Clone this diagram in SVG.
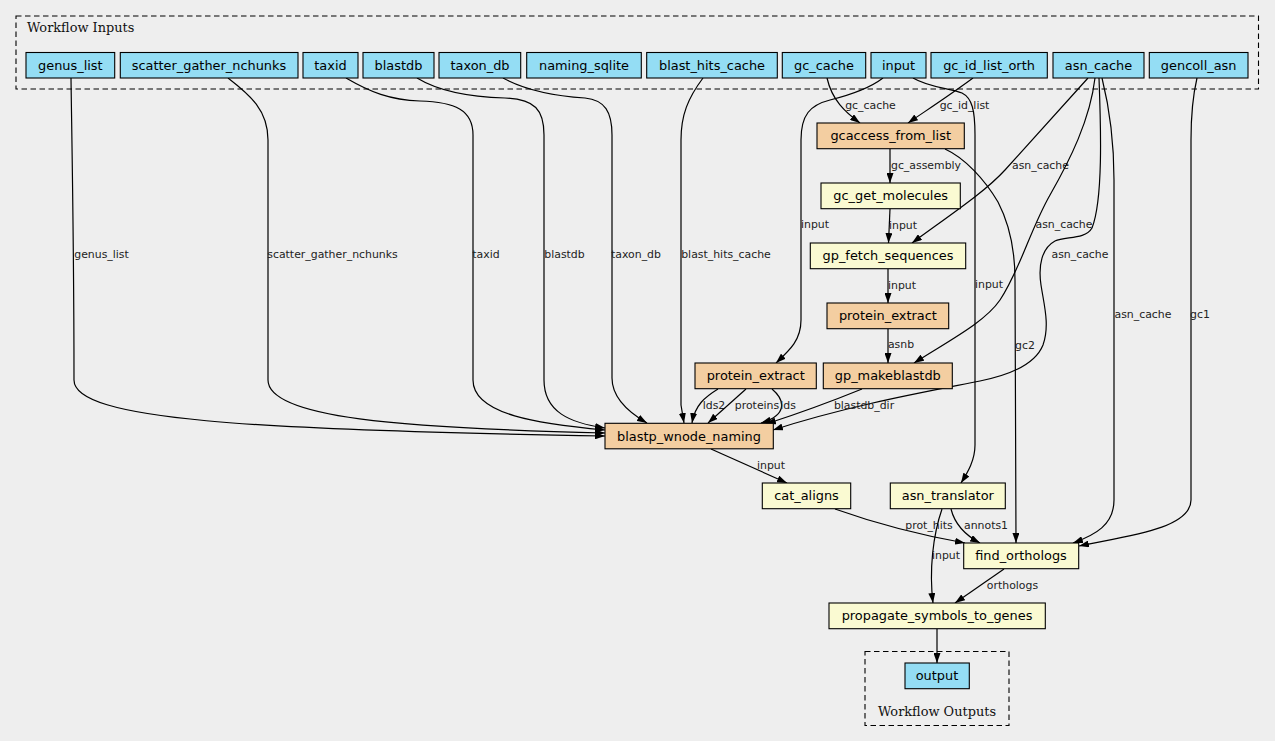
<svg xmlns="http://www.w3.org/2000/svg" width="1275" height="741" viewBox="0 0 1275 741">
<style>
.bg{fill:#eeeeee}
.cl{fill:none;stroke:#000;stroke-width:1.1;stroke-dasharray:5.5,3.5}
.ct{font-family:"DejaVu Serif",serif;font-size:12.9px;fill:#111}
.n rect{stroke:#000;stroke-width:1.1}
.in rect{fill:#94ddf4}
.sub rect{fill:#f3cea1}
.st rect{fill:#fafad2}
.n text{font-family:"DejaVu Sans",sans-serif;font-size:12.9px;text-anchor:middle;fill:#000}
.e path{fill:none;stroke:#000;stroke-width:1.2;marker-end:url(#a)}
.e text{font-family:"DejaVu Sans",sans-serif;font-size:10.9px;text-anchor:middle;fill:#222}
</style>
<defs>
<marker id="a" viewBox="0 0 10 7" markerWidth="10" markerHeight="7" refX="10" refY="3.5" orient="auto" markerUnits="userSpaceOnUse">
<path d="M0,0 L10,3.5 L0,7 z" fill="#000"/>
</marker>
</defs>
<rect class="bg" x="0" y="0" width="1275" height="741"/>
<g id="cluster_inputs">
<rect class="cl" x="16" y="16" width="1242.5" height="73"/>
<text class="ct" x="27" y="31.5">Workflow Inputs</text>
</g>
<g id="cluster_outputs">
<rect class="cl" x="865" y="651.5" width="144" height="74"/>
<text class="ct" x="937" y="716" text-anchor="middle">Workflow Outputs</text>
</g>
<g id="connectors" class="e">
<path d="M71,78 C72,150 74,250 74,380 C74,420 250,430 605,436"/>
<text x="101.5" y="258">genus_list</text>
<path d="M228,78 C250,95 268,110 268,140 L268,380 C268,418 400,428 605,433"/>
<text x="332.5" y="258">scatter_gather_nchunks</text>
<path d="M346,78 C370,92 390,100 420,101 C455,102 473,110 473,135 L473,380 C473,415 540,424 605,430"/>
<text x="486" y="258">taxid</text>
<path d="M417,78 C440,92 470,97 505,98 C535,99 544,110 544,135 L544,380 C544,412 570,423 605,428"/>
<text x="564.5" y="258">blastdb</text>
<path d="M503,78 C525,90 555,96 585,98 C605,100 612,112 612,135 L612,378 C612,398 628,412 647,423"/>
<text x="636" y="258">taxon_db</text>
<path d="M703,78 C688,98 681,115 681,140 L681,405 L684,423"/>
<text x="726" y="258">blast_hits_cache</text>
<path d="M827,78 C832,100 845,112 860,123"/>
<text x="870.5" y="109">gc_cache</text>
<path d="M973,78 C950,95 930,108 908,123"/>
<text x="964.5" y="109">gc_id_list</text>
<path d="M883,78 C870,88 850,95 830,100 C810,105 801,115 801,140 L801,320 C801,340 790,350 776,363"/>
<text x="815" y="228">input</text>
<path d="M913,78 C930,88 950,88 962,93 C972,98 975,110 975,135 L975,445 C975,460 968,472 961,483"/>
<text x="989" y="288">input</text>
<path d="M890,149 L890,183"/>
<text x="926" y="169">gc_assembly</text>
<path d="M890,209 L888.5,243"/>
<text x="903" y="229">input</text>
<path d="M888,269 L888,303"/>
<text x="902" y="289">input</text>
<path d="M888,329 L888,363"/>
<text x="901" y="348">asnb</text>
<path d="M1088,78 L1005,170 C985,192 950,215 912,243"/>
<text x="1040.5" y="169">asn_cache</text>
<path d="M1095,78 C1090,120 1070,160 1050,195 C1030,230 1020,270 1000,300 C985,322 950,340 914,363"/>
<text x="1064" y="228">asn_cache</text>
<path d="M1099,78 C1101,130 1103,200 1092,228 C1085,240 1065,236 1055,241 C1042,248 1038,265 1041,285 C1044,305 1050,325 1043,345 C1035,365 1010,375 980,381 C930,391 850,405 773,430"/>
<text x="1080" y="258">asn_cache</text>
<path d="M1102,78 C1110,110 1114,140 1114,180 L1114,500 C1114,525 1095,535 1073,543"/>
<text x="1143" y="318">asn_cache</text>
<path d="M1197,78 C1193,95 1191,110 1191,140 L1191,500 C1191,530 1120,537 1079,546"/>
<text x="1200" y="318">gc1</text>
<path d="M945,149 C965,158 985,180 998,202 C1010,225 1015,250 1015,280 L1016,543"/>
<text x="1025" y="349">gc2</text>
<path d="M718,389 C705,397 695,405 692,423"/>
<text x="714" y="409">lds2</text>
<path d="M746,389 L708,423"/>
<text x="757" y="409">proteins</text>
<path d="M772,389 C785,400 788,415 761,423"/>
<text x="788" y="409">lds</text>
<path d="M862,389 C830,402 800,413 766,424"/>
<text x="864" y="409">blastdb_dir</text>
<path d="M711,449 L787,483"/>
<text x="771" y="469">input</text>
<path d="M835,509 C880,525 920,535 965,543"/>
<text x="929" y="529">prot_hits</text>
<path d="M951,509 C955,525 965,535 980,543"/>
<text x="986" y="529">annots1</text>
<path d="M942,509 C933,535 929,570 933,603"/>
<text x="946" y="559">input</text>
<path d="M1004,569 L955,603"/>
<text x="1012.5" y="589">orthologs</text>
<path d="M937,629 L937,663"/>
</g>
<g id="genus_list" class="n in"><rect x="26" y="52.5" width="88.7" height="25.5"/><text x="70.3" y="69.7">genus_list</text></g>
<g id="scatter_gather_nchunks" class="n in"><rect x="120.3" y="52.5" width="177.7" height="25.5"/><text x="209" y="69.7">scatter_gather_nchunks</text></g>
<g id="taxid" class="n in"><rect x="303" y="52.5" width="55" height="25.5"/><text x="330.5" y="69.7">taxid</text></g>
<g id="blastdb" class="n in"><rect x="363" y="52.5" width="71" height="25.5"/><text x="398.5" y="69.7">blastdb</text></g>
<g id="taxon_db" class="n in"><rect x="439" y="52.5" width="81.7" height="25.5"/><text x="480" y="69.7">taxon_db</text></g>
<g id="naming_sqlite" class="n in"><rect x="526.7" y="52.5" width="114.6" height="25.5"/><text x="584" y="69.7">naming_sqlite</text></g>
<g id="blast_hits_cache" class="n in"><rect x="646.7" y="52.5" width="130.6" height="25.5"/><text x="712" y="69.7">blast_hits_cache</text></g>
<g id="gc_cache" class="n in"><rect x="782.3" y="52.5" width="83.4" height="25.5"/><text x="824" y="69.7">gc_cache</text></g>
<g id="input" class="n in"><rect x="871" y="52.5" width="55" height="25.5"/><text x="898.5" y="69.7">input</text></g>
<g id="gc_id_list_orth" class="n in"><rect x="931" y="52.5" width="116.3" height="25.5"/><text x="989" y="69.7">gc_id_list_orth</text></g>
<g id="asn_cache" class="n in"><rect x="1053" y="52.5" width="91" height="25.5"/><text x="1098.5" y="69.7">asn_cache</text></g>
<g id="gencoll_asn" class="n in"><rect x="1149.3" y="52.5" width="98.7" height="25.5"/><text x="1198.7" y="69.7">gencoll_asn</text></g>
<g id="gcaccess_from_list" class="n sub"><rect x="817" y="123" width="147.3" height="25.7"/><text x="890.7" y="140.3">gcaccess_from_list</text></g>
<g id="gc_get_molecules" class="n st"><rect x="821" y="183" width="139.3" height="25.7"/><text x="890.7" y="200.3">gc_get_molecules</text></g>
<g id="gp_fetch_sequences" class="n st"><rect x="810.3" y="243" width="155.4" height="25.7"/><text x="888" y="260.3">gp_fetch_sequences</text></g>
<g id="protein_extract_2" class="n sub"><rect x="827" y="303" width="121.7" height="25.7"/><text x="887.9" y="320.3">protein_extract</text></g>
<g id="protein_extract_1" class="n sub"><rect x="695" y="363" width="121.3" height="25.7"/><text x="755.7" y="380.3">protein_extract</text></g>
<g id="gp_makeblastdb" class="n sub"><rect x="823.3" y="363" width="129" height="25.7"/><text x="887.8" y="380.3">gp_makeblastdb</text></g>
<g id="blastp_wnode_naming" class="n sub"><rect x="605" y="423.3" width="168.3" height="25.5"/><text x="689" y="440.5">blastp_wnode_naming</text></g>
<g id="cat_aligns" class="n st"><rect x="762.3" y="483" width="88.4" height="25.7"/><text x="806.5" y="500.3">cat_aligns</text></g>
<g id="asn_translator" class="n st"><rect x="890.3" y="483" width="115" height="25.7"/><text x="947.8" y="500.3">asn_translator</text></g>
<g id="find_orthologs" class="n st"><rect x="963.7" y="543" width="115" height="25.7"/><text x="1021" y="560.3">find_orthologs</text></g>
<g id="propagate_symbols_to_genes" class="n st"><rect x="829" y="603" width="216.3" height="25.7"/><text x="937" y="620.3">propagate_symbols_to_genes</text></g>
<g id="output" class="n in"><rect x="905" y="663" width="64.3" height="25.7"/><text x="937" y="680.3">output</text></g>
</svg>
